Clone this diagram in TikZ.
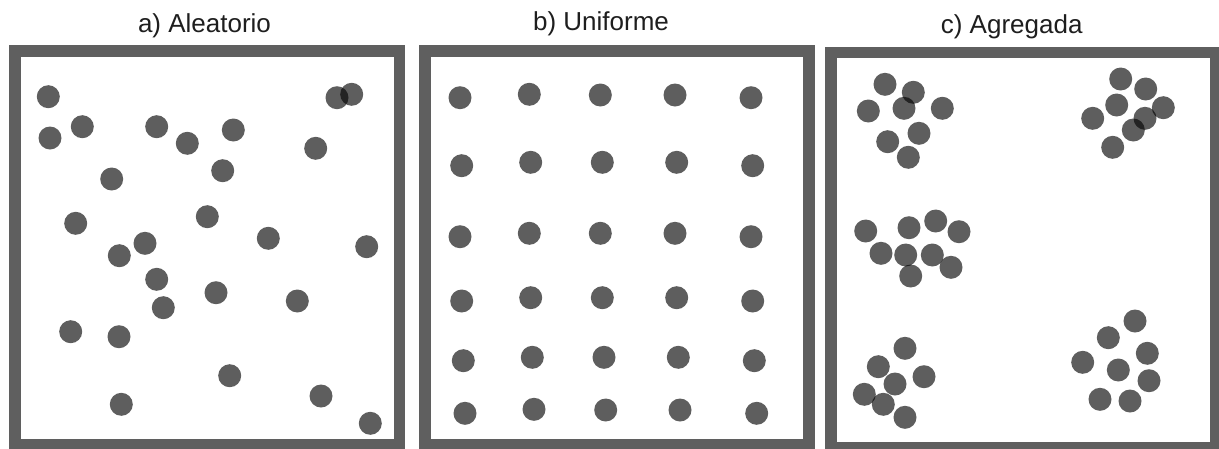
\documentclass[tikz,border=0pt]{standalone}
\usepackage{fontspec}
\setmainfont{Liberation Sans}
\definecolor{boxgray}{RGB}{95,95,95}
\definecolor{txt}{RGB}{30,30,30}
\tikzset{
  frame/.style={draw=boxgray, line width=11.5pt},
  title/.style={anchor=base, inner sep=0pt, text=txt, font=\fontsize{26}{30}\selectfont},
  dot/.style={fill=black, fill opacity=0.63}
}
\begin{document}
\begin{tikzpicture}[x=1pt,y=-1pt]
\useasboundingbox (0,0) rectangle (1219,448);
% titles
\node[title] (ta) at (204.5,32.3) {a) Aleatorio};
\node[title] (tb) at (601,30) {b) Uniforme};
\node[title] (tc) at (1011.7,33.3) {c) Agregada};
% frames
\draw[frame] (14.75,50.75) rectangle (399.25,445);
\draw[frame] (424.75,50.75) rectangle (809,445);
\draw[frame] (830.75,52.5) rectangle (1215.5,447.5);
% a) random
\foreach \x/\y in {48.3/96.7, 337/97.7, 351.7/94.3, 50/138, 82.3/126.7, 156.7/126.7,
  187.3/143.3, 233.3/130, 315.7/148.3, 111.7/179, 222.7/170.7, 75.7/223.3,
  207.3/216.7, 268.3/238.3, 366.7/246.7, 145/243.3, 119.3/255.7, 156.7/279.3,
  216/292.7, 297.3/301, 163.3/307.7, 70.7/331.7, 119/336.7, 229.7/375.7,
  321/396, 121.3/404.3, 370.3/423.3}
  \fill[dot] (\x,\y) circle (11.5);
% b) uniform
\foreach \x/\y in {460/97.7, 529.3/94.3, 600.3/95, 675/95, 751/97.7,
  461.7/165.7, 530.7/162.3, 602.3/162.3, 676.7/162.3, 752.7/165.7,
  460/236.7, 529.3/233.3, 600.3/233.3, 675/233.3, 751/236.7,
  461.7/301, 530.7/297.7, 602.3/297.7, 676.7/297.7, 752.7/301,
  463.3/360.7, 532.3/357.3, 604/357.3, 678.3/357.3, 754.3/360.7,
  465/413.3, 534/409.3, 605.7/410, 680/410, 756.7/413.3}
  \fill[dot] (\x,\y) circle (11.5);
% c) aggregated
\foreach \x/\y in {885/84.3, 913.3/92.3, 868.3/111, 904/108.3, 942.3/108.3,
  919/133.3, 887.7/141.7, 908.3/157.3,
  1120.7/79, 1145.7/89, 1116.7/105, 1163.3/107.7, 1092.7/118.3, 1145/118.3,
  1133.3/130, 1112.7/147.3,
  865.7/231, 909/227.7, 935.7/221, 959/231.7, 881/253.3, 905.7/255, 932.3/255,
  951/267.3, 910.7/276,
  905/348.3, 878.3/366.7, 924/376.7, 895/384, 864.3/394.3, 883.3/404.3, 905/417.3,
  1135/321, 1108.3/337.7, 1147.3/353.3, 1082.7/362.3, 1118.3/370, 1149/380.7,
  1100/399.3, 1130/401}
  \fill[dot] (\x,\y) circle (11.5);
\end{tikzpicture}
\end{document}
